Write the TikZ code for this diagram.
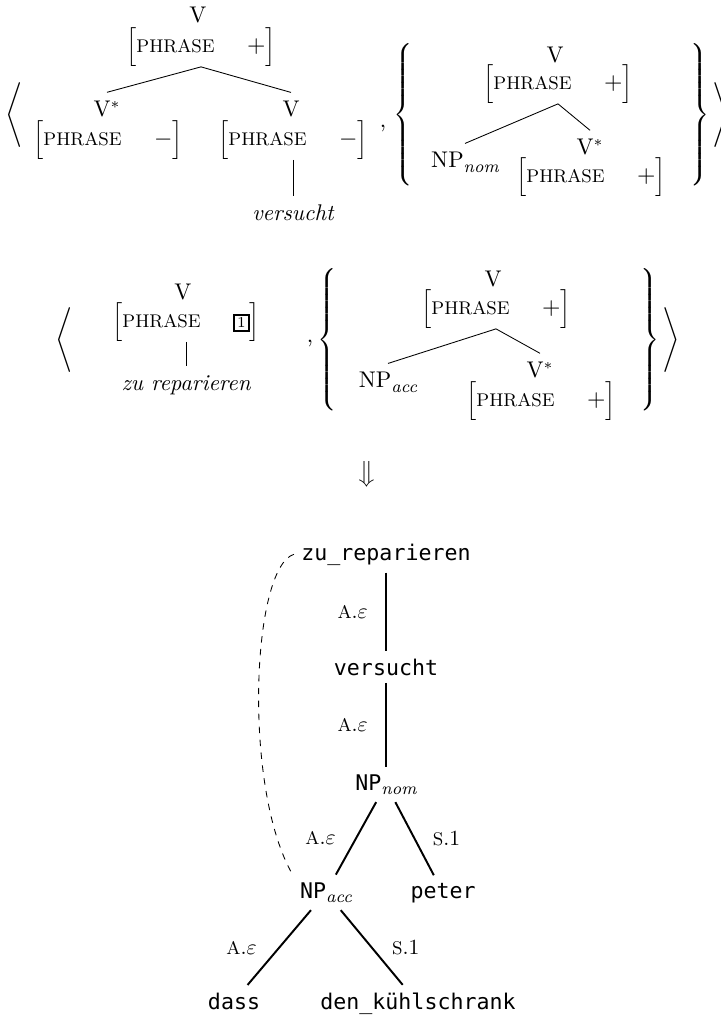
\documentclass[tikz,border=0pt]{standalone}
\usepackage{fontspec}
\newfontfamily\treefont{DejaVu Sans Mono}
\usepackage{tikz}
\usetikzlibrary{positioning}
\newcommand{\capsm}[1]{{\fontsize{8.5}{10}\selectfont #1}}
\newcommand{\phr}[1]{$\Bigl[$\capsm{PHRASE}\hspace{15pt}#1$\Bigr]$}
\newcommand{\tagbox}[1]{{\setlength{\fboxrule}{0.8pt}\setlength{\fboxsep}{1pt}\fbox{\scriptsize #1}}}
\newcommand{\casesub}[1]{\raisebox{-2pt}{\fontsize{8}{9}\selectfont\rmfamily\itshape #1}}
\newcommand{\lblA}{\capsm{A}.$\varepsilon$}
\newcommand{\lblS}{\capsm{S}.1}
\tikzset{
  cat/.style={font=\fontsize{10.5}{12.6}\selectfont, anchor=base, inner xsep=1pt, inner ysep=4pt},
  feat/.style={font=\fontsize{10.5}{12.6}\selectfont, inner sep=0pt},
  word/.style={cat, font=\fontsize{10.5}{12.6}\selectfont\itshape},
  delim/.style={font=\fontsize{10}{12}\selectfont, inner sep=0pt},
  treenode/.style={font=\fontsize{10}{12}\selectfont\treefont, anchor=base},
  edgelbl/.style={font=\fontsize{10}{12}\selectfont\rmfamily, inner sep=1pt},
  branch/.style={line width=0.4pt},
  depedge/.style={line width=0.9pt},
  gapedge/.style={dashed, line width=0.4pt}
}
\begin{document}
\begin{tikzpicture}[x=0.463pt, y=-0.463pt]
\useasboundingbox (0,0) rectangle (720,1021);
% first sign: V* V => V
\node[delim] (lang1) at (14,115) {$\Biggl\langle$};
\node[cat] (v1) at (198,23) {V};
\node[feat] (f1) at (201,47) {\phr{$+$}};
\node[cat] (v1a) at (107,117) {V$^*$};
\node[feat] (f1a) at (108,140) {\phr{$-$}};
\node[cat] (v1b) at (291,117) {V};
\node[feat] (f1b) at (293,140) {\phr{$-$}};
\node[word] (w1) at (293,221) {versucht};
\node[cat] (comma1) at (383,128) {,};
\node[delim] (brace1l) at (404,115) {$\left\{\vcenter{\hbox{\rule{0pt}{70pt}}}\right.$};
\node[cat] (v2) at (555,63) {V};
\node[feat] (f2) at (558,84) {\phr{$+$}};
\node[cat] (np1) at (465,168) {NP\casesub{nom}};
\node[cat] (v2a) at (590,155) {V$^*$};
\node[feat] (f2a) at (591,177) {\phr{$+$}};
\node[delim] (brace1r) at (699,115) {$\left.\vcenter{\hbox{\rule{0pt}{70pt}}}\right\}$};
\node[delim] (rang1) at (721,115) {$\Biggr\rangle$};

\draw[branch] (f1.south) -- (v1a.north);
\draw[branch] (f1.south) -- (v1b.north);
\draw[branch] (f1b.south) -- (w1.north);
\draw[branch] (f2.south) -- (np1.north);
\draw[branch] (f2.south) -- (v2a.north);

% second sign: zu reparieren
\node[delim] (lang2) at (64,340) {$\Biggl\langle$};
\node[cat] (v3) at (183,300) {V};
\node[feat] (f3) at (186,322) {\phr{\tagbox{1}}};
\node[word] (w2) at (186,390) {zu reparieren};
\node[cat] (comma2) at (310,343) {,};
\node[delim] (brace2l) at (328,340) {$\left\{\vcenter{\hbox{\rule{0pt}{70pt}}}\right.$};
\node[cat] (v4) at (493,287) {V};
\node[feat] (f4) at (496,309) {\phr{$+$}};
\node[cat] (np2) at (388,388) {NP\casesub{acc}};
\node[cat] (v5) at (540,378) {V$^*$};
\node[feat] (f5) at (541,401) {\phr{$+$}};
\node[delim] (brace2r) at (649,340) {$\left.\vcenter{\hbox{\rule{0pt}{70pt}}}\right\}$};
\node[delim] (rang2) at (671,340) {$\Biggr\rangle$};

\draw[branch] (f3.south) -- (w2.north);
\draw[branch] (f4.south) -- (np2.north);
\draw[branch] (f4.south) -- (v5.north);

\node[delim] (impl) at (367,474) {$\big\Downarrow$};

% resulting dependency tree
\node[treenode] (zu) at (386,560) {zu\_reparieren};
\node[treenode] (vs) at (386,675) {versucht};
\node[treenode] (npn) at (386,790) {NP\casesub{nom}};
\node[treenode] (npa) at (326,898) {NP\casesub{acc}};
\node[treenode] (pt) at (443,898) {peter};
\node[treenode] (ds) at (234,1009) {dass};
\node[treenode] (dk) at (418,1009) {den\_kühlschrank};

\draw[depedge] (zu) -- node[edgelbl, left=7pt] {\lblA} (vs);
\draw[depedge] (vs) -- node[edgelbl, left=7pt] {\lblA} (npn);
\draw[depedge] (npn) -- node[edgelbl, left=8pt] {\lblA} (npa);
\draw[depedge] (npn) -- node[edgelbl, right=7pt] {\lblS} (pt);
\draw[depedge] (npa) -- node[edgelbl, left=9pt] {\lblA} (ds);
\draw[depedge] (npa) -- node[edgelbl, right=8pt] {\lblS} (dk);
\draw[gapedge] (zu.west) .. controls +(-42,13) and +(-50,-87) .. (npa.north west);
\end{tikzpicture}
\end{document}
